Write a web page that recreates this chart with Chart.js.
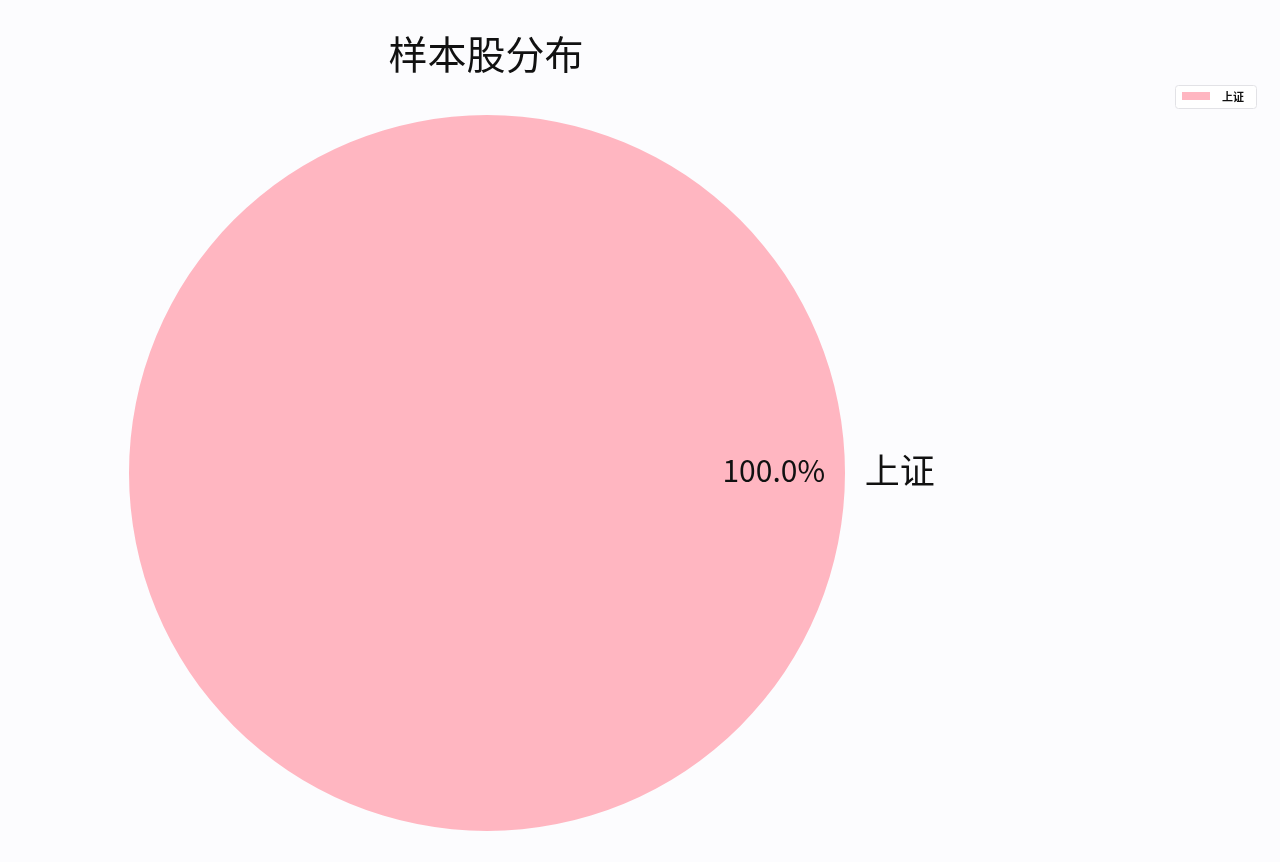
<!DOCTYPE html>
<html>
<head>
<meta charset="utf-8">
<script src="https://cdn.jsdelivr.net/npm/chart.js@4/dist/chart.umd.min.js"></script>
<style>
  html, body { margin: 0; padding: 0; background: #fcfcfe; }
  #wrap { width: 1280px; height: 862px; position: relative; }
</style>
</head>
<body>
<div id="wrap"><canvas id="c" width="1280" height="862"></canvas></div>
<script>
const titleText = '样本股分布';
const categories = ['上证'];
const values = [100];
const colors = ['#ffb6c1'];

const FONT = '"Noto Sans CJK SC", "Noto Sans", sans-serif';

const overlay = {
  id: 'overlay',
  afterDatasetsDraw(chart) {
    const ctx = chart.ctx;
    const meta = chart.getDatasetMeta(0);
    const total = values.reduce((a, b) => a + b, 0);
    ctx.save();
    // title
    ctx.fillStyle = '#111';
    ctx.font = '39px ' + FONT;
    ctx.textAlign = 'center';
    ctx.textBaseline = 'middle';
    const cx = meta.data[0].x;
    ctx.fillText(titleText, cx - 1, 54);
    meta.data.forEach((arc, i) => {
      const p = arc.getProps(['x', 'y', 'startAngle', 'endAngle', 'outerRadius'], true);
      const mid = (p.startAngle + p.endAngle) / 2;
      const pct = (values[i] / total * 100).toFixed(1) + '%';
      ctx.font = '30px ' + FONT;
      ctx.textAlign = 'center';
      ctx.fillStyle = '#111';
      ctx.fillText(pct, p.x + Math.cos(mid) * p.outerRadius * 0.801, p.y + Math.sin(mid) * p.outerRadius * 0.801 - 2);
      ctx.font = '35px ' + FONT;
      ctx.textAlign = 'left';
      ctx.fillText(categories[i], p.x + Math.cos(mid) * p.outerRadius * 1.055, p.y + Math.sin(mid) * p.outerRadius * 1.055 - 2);
    });
    // legend box
    const bx = 1175, by = 85, bw = 81, bh = 23;
    ctx.beginPath();
    if (ctx.roundRect) ctx.roundRect(bx + 0.5, by + 0.5, bw, bh, 3); else ctx.rect(bx + 0.5, by + 0.5, bw, bh);
    ctx.fillStyle = 'rgba(255,255,255,0.8)';
    ctx.fill();
    ctx.strokeStyle = '#e2e2e6';
    ctx.lineWidth = 1;
    ctx.stroke();
    categories.forEach((c, i) => {
      ctx.fillStyle = colors[i];
      ctx.fillRect(1182, 92 + i * 18, 28, 8);
      ctx.fillStyle = '#111';
      ctx.font = 'bold 11px ' + FONT;
      ctx.textAlign = 'left';
      ctx.textBaseline = 'middle';
      ctx.fillText(c, 1222, 97 + i * 18);
    });
    ctx.restore();
  }
};

new Chart(document.getElementById('c'), {
  type: 'pie',
  data: {
    labels: categories,
    datasets: [{
      data: values,
      backgroundColor: colors,
      borderWidth: 0
    }]
  },
  options: {
    responsive: false,
    animation: false,
    rotation: -90,
    layout: { padding: { top: 115, bottom: 31, left: 129, right: 435 } },
    plugins: {
      legend: { display: false },
      title: { display: false },
      tooltip: { enabled: false }
    }
  },
  plugins: [overlay]
});
</script>
</body>
</html>
